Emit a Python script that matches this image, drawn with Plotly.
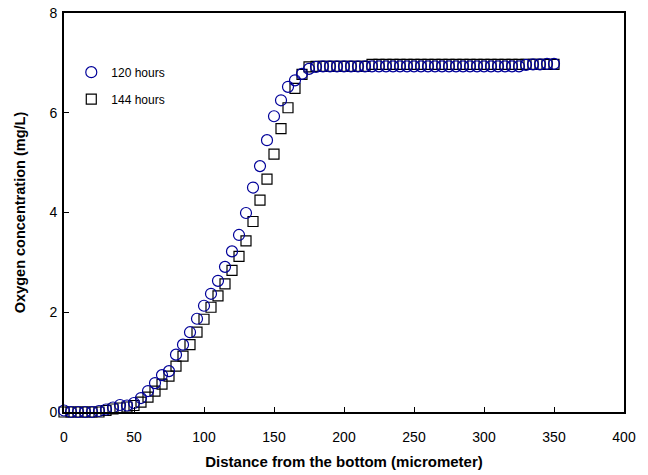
import plotly.graph_objects as go

distance = list(range(0, 355, 5))

oxygen_120h = [
    0.03, 0.00, 0.00, 0.00, 0.00, 0.02, 0.05, 0.09, 0.14, 0.13,
    0.18, 0.28, 0.42, 0.58, 0.74, 0.82, 1.15, 1.35, 1.60, 1.87,
    2.13, 2.37, 2.63, 2.91, 3.22, 3.55, 3.99, 4.50, 4.93, 5.45,
    5.93, 6.25, 6.52, 6.65, 6.78, 6.88, 6.92, 6.93, 6.93, 6.93,
    6.93, 6.93, 6.93, 6.93, 6.93, 6.93, 6.93, 6.93, 6.93, 6.93,
    6.93, 6.93, 6.93, 6.93, 6.93, 6.93, 6.93, 6.93, 6.93, 6.93,
    6.93, 6.93, 6.93, 6.93, 6.93, 6.93, 6.96, 6.97, 6.97, 6.98,
    6.98,
]

oxygen_144h = [
    0.00, 0.00, 0.00, 0.00, 0.00, 0.00, 0.03, 0.06, 0.08, 0.10,
    0.13, 0.20, 0.30, 0.42, 0.56, 0.72, 0.92, 1.12, 1.35, 1.60,
    1.86, 2.10, 2.33, 2.57, 2.84, 3.12, 3.43, 3.82, 4.25, 4.67,
    5.17, 5.68, 6.10, 6.49, 6.77, 6.92, 6.93, 6.93, 6.93, 6.93,
    6.93, 6.93, 6.93, 6.93, 6.97, 6.97, 6.97, 6.97, 6.97, 6.97,
    6.97, 6.97, 6.97, 6.97, 6.97, 6.97, 6.97, 6.97, 6.97, 6.97,
    6.97, 6.97, 6.97, 6.97, 6.97, 6.97, 6.97, 6.97, 6.97, 6.97,
    6.97,
]

x_ticks = [0, 50, 100, 150, 200, 250, 300, 350, 400]
y_ticks = [0, 2, 4, 6, 8]

FONT = "Arial, Liberation Sans, sans-serif"

fig = go.Figure()
fig.add_trace(go.Scatter(
    x=distance, y=oxygen_144h, mode="markers", name="144 hours",
    legendgroup="b", legendrank=2, cliponaxis=False,
    marker=dict(symbol="square-open", size=10, color="black",
                line=dict(width=1.2, color="black")),
))
fig.add_trace(go.Scatter(
    x=distance, y=oxygen_120h, mode="markers", name="120 hours",
    legendgroup="a", legendrank=1, cliponaxis=False,
    marker=dict(symbol="circle-open", size=11, color="#000099",
                line=dict(width=1.2, color="#000099")),
))

axis_common = dict(
    showgrid=False, zeroline=False, showline=True, linecolor="black",
    linewidth=2, mirror=True, ticks="inside", ticklen=5, tickwidth=1,
    tickcolor="black", tickfont=dict(family=FONT, size=14, color="black"),
    ticklabeloverflow="allow",
)

fig.update_layout(
    width=648, height=475,
    margin=dict(l=64, r=24, t=13, b=63, autoexpand=False),
    paper_bgcolor="white", plot_bgcolor="white",
    font=dict(family=FONT, color="black"),
    showlegend=True,
    legend=dict(x=0.013, y=0.888, xanchor="left", yanchor="top",
                bgcolor="rgba(0,0,0,0)", font=dict(family=FONT, size=12),
                tracegroupgap=8, itemwidth=30, traceorder="grouped"),
    xaxis=dict(range=[0, 400], tickvals=x_ticks, ticklabelstandoff=11,
               title=dict(text="<b>Distance from the bottom (micrometer)</b>",
                          font=dict(family=FONT, size=15), standoff=13),
               **axis_common),
    yaxis=dict(range=[0, 8], tickvals=y_ticks, ticklabelstandoff=2,
               title=dict(text="<b>Oxygen concentration (mg/L)</b>",
                          font=dict(family=FONT, size=14.5), standoff=20),
               **axis_common),
)

fig.write_html(
    "out.html",
    config={"displayModeBar": False},
    post_script="document.body.style.margin='0';document.body.style.padding='0';",
)
